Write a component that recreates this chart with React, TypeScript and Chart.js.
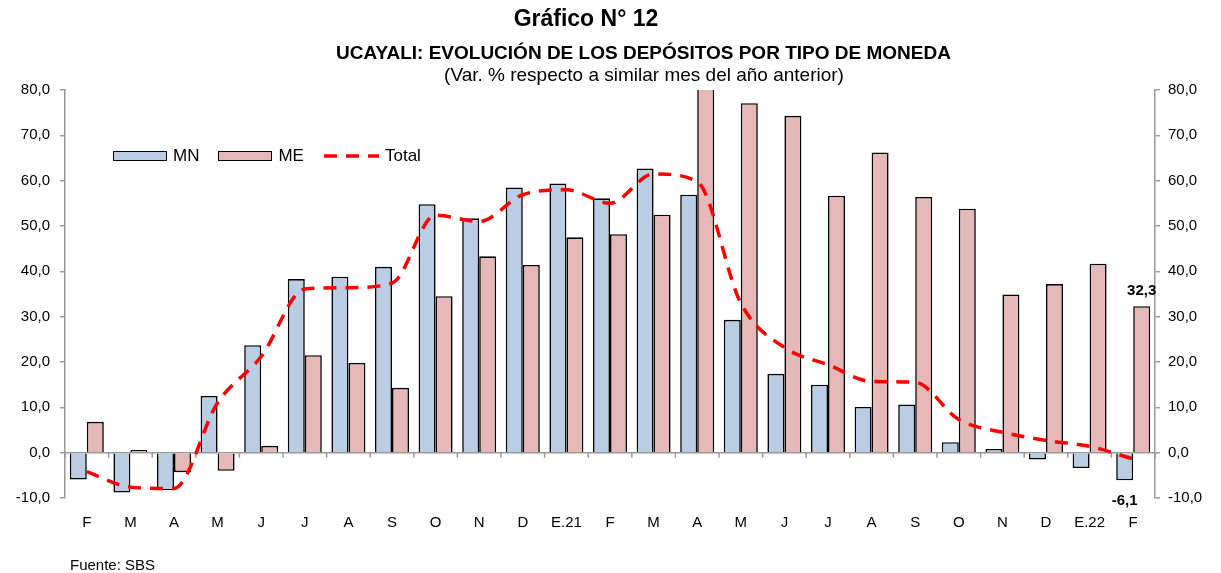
import React, { useEffect, useRef } from "react";
import { Chart, registerables } from "chart.js";

Chart.register(...registerables);

const categories = ["F", "M", "A", "M", "J", "J", "A", "S", "O", "N", "D", "E.21", "F", "M", "A", "M", "J", "J", "A", "S", "O", "N", "D", "E.22", "F"];
const mnValues = [-5.9, -8.8, -8.3, 12.5, 23.7, 38.3, 38.8, 41.0, 54.8, 51.7, 58.5, 59.4, 56.1, 62.7, 56.9, 29.3, 17.4, 15.0, 10.1, 10.6, 2.3, 0.8, -1.5, -3.4, -6.1];
const meValues = [6.8, 0.6, -4.3, -4.0, 1.5, 21.5, 19.8, 14.3, 34.5, 43.3, 41.4, 47.5, 48.2, 52.5, 80.4, 77.1, 74.3, 56.7, 66.2, 56.4, 53.8, 34.9, 37.2, 41.7, 32.3];
const totalValues = [-4.2, -7.6, -7.9, 11.0, 21.2, 36.1, 36.4, 37.4, 52.4, 51.0, 56.9, 58.0, 55.0, 61.5, 59.8, 33.0, 23.2, 19.4, 15.7, 15.5, 7.3, 4.5, 2.7, 1.4, -1.4];
const axisTicks = [-10, 0, 10, 20, 30, 40, 50, 60, 70, 80];

const FONT = "'Liberation Sans', Arial, sans-serif";
const AXIS_GRAY = "#999999";
const fmt = (v: number) => v.toFixed(1).replace(".", ",");

const zeroAxisPlugin = {
  id: "zeroAxis",
  beforeDatasetsDraw(chart: any) {
    const { ctx, chartArea, scales } = chart;
    const y0 = scales.y.getPixelForValue(0);
    const xs = scales.x;
    const step = xs.getPixelForValue(1) - xs.getPixelForValue(0);
    ctx.save();
    ctx.strokeStyle = AXIS_GRAY;
    ctx.lineWidth = 1.5;
    ctx.beginPath();
    ctx.moveTo(chartArea.left, y0);
    ctx.lineTo(chartArea.right, y0);
    for (let i = 0; i <= categories.length; i++) {
      const px = xs.getPixelForValue(0) - step / 2 + i * step;
      ctx.moveTo(px, y0);
      ctx.lineTo(px, y0 + 5);
    }
    ctx.stroke();
    ctx.restore();
  },
  afterDatasetsDraw(chart: any) {
    const { ctx } = chart;
    const last = categories.length - 1;
    const mnBar = chart.getDatasetMeta(0).data[last];
    const meBar = chart.getDatasetMeta(1).data[last];
    ctx.save();
    ctx.font = `bold 15px ${FONT}`;
    ctx.fillStyle = "#000";
    ctx.textAlign = "center";
    ctx.textBaseline = "bottom";
    ctx.fillText(fmt(meValues[last]), meBar.x, meBar.y - 8);
    ctx.textBaseline = "top";
    ctx.fillText(fmt(mnValues[last]), mnBar.x, mnBar.y + 13);
    ctx.restore();
  },
};

export default function App() {
  const ref = useRef<HTMLCanvasElement>(null);
  useEffect(() => {
    if (!ref.current) return;
    const yCommon = {
      min: -10,
      max: 80,
      afterBuildTicks: (s: any) => {
        s.ticks = axisTicks.map((v) => ({ value: v }));
      },
      grid: { drawOnChartArea: false, drawTicks: true, tickLength: 5, color: AXIS_GRAY, lineWidth: 1.5 },
      border: { display: true, color: AXIS_GRAY, width: 1.5 },
      ticks: { color: "#000", font: { family: FONT, size: 15 }, padding: 10, callback: (v: any) => fmt(Number(v)) },
    };
    const chart = new Chart(ref.current, {
      type: "bar",
      data: {
        labels: categories,
        datasets: [
          { type: "bar", label: "MN", data: mnValues, backgroundColor: "#B9CDE5", borderColor: "#000", borderWidth: 1.6, categoryPercentage: 0.78, barPercentage: 1, order: 2 },
          { type: "bar", label: "ME", data: meValues, backgroundColor: "#E6B9B8", borderColor: "#000", borderWidth: 1.6, categoryPercentage: 0.78, barPercentage: 1, order: 2 },
          { type: "line", label: "Total", data: totalValues, borderColor: "#FF0000", borderWidth: 3.5, borderDash: [13, 9], pointRadius: 0, cubicInterpolationMode: "monotone", fill: false, order: 1 } as any,
        ],
      },
      options: {
        animation: false,
        responsive: false,
        layout: { padding: { top: 90, left: 0, right: 0, bottom: 0 } },
        plugins: { legend: { display: false }, tooltip: { enabled: false }, title: { display: false } },
        scales: {
          x: {
            grid: { display: false },
            border: { display: false },
            ticks: { color: "#000", font: { family: FONT, size: 15 }, padding: 8, maxRotation: 0, autoSkip: false },
            afterFit: (s: any) => { s.height = 75; },
          },
          y: { ...yCommon, position: "left", afterFit: (s: any) => { s.width = 65; } } as any,
          y2: { ...yCommon, position: "right", ticks: { ...yCommon.ticks, padding: 8 }, afterFit: (s: any) => { s.width = 66; } } as any,
        },
      },
      plugins: [zeroAxisPlugin],
    });
    return () => chart.destroy();
  }, []);

  const legendBox = (color: string) => (
    <span style={{ display: "inline-block", boxSizing: "border-box", width: 54, height: 10, background: color, border: "1.5px solid #000", marginRight: 6 }} />
  );

  return (
    <div style={{ position: "fixed", left: 0, top: 0, width: 1221, height: 573, background: "#fff", fontFamily: FONT }}>
      <canvas ref={ref} width={1221} height={573} style={{ position: "absolute", left: 0, top: 0 }} />
      <div style={{ position: "absolute", top: 5, left: 0, width: 1172, textAlign: "center", fontWeight: "bold", fontSize: 23, lineHeight: "26px" }}>Gráfico N° 12</div>
      <div style={{ position: "absolute", top: 43, left: 0, width: 1287, textAlign: "center", fontWeight: "bold", fontSize: 19, lineHeight: "20px" }}>UCAYALI: EVOLUCIÓN DE LOS DEPÓSITOS POR TIPO DE MONEDA</div>
      <div style={{ position: "absolute", top: 65, left: 0, width: 1288, textAlign: "center", fontSize: 19, lineHeight: "20px" }}>(Var. % respecto a similar mes del año anterior)</div>
      <div style={{ position: "absolute", top: 146, left: 113, fontSize: 17, lineHeight: "20px", whiteSpace: "nowrap", display: "flex", alignItems: "center" }}>
        {legendBox("#B9CDE5")}<span style={{ marginRight: 19 }}>MN</span>
        {legendBox("#E6B9B8")}<span style={{ marginRight: 20 }}>ME</span>
        <svg width="55" height="10" style={{ marginRight: 6 }}>
          <line x1="0" y1="5" x2="55" y2="5" stroke="#FF0000" strokeWidth="3.5" strokeDasharray="13 9" />
        </svg>
        <span>Total</span>
      </div>
      <div style={{ position: "absolute", top: 556, left: 70, fontSize: 15, lineHeight: "18px" }}>Fuente: SBS</div>
    </div>
  );
}
